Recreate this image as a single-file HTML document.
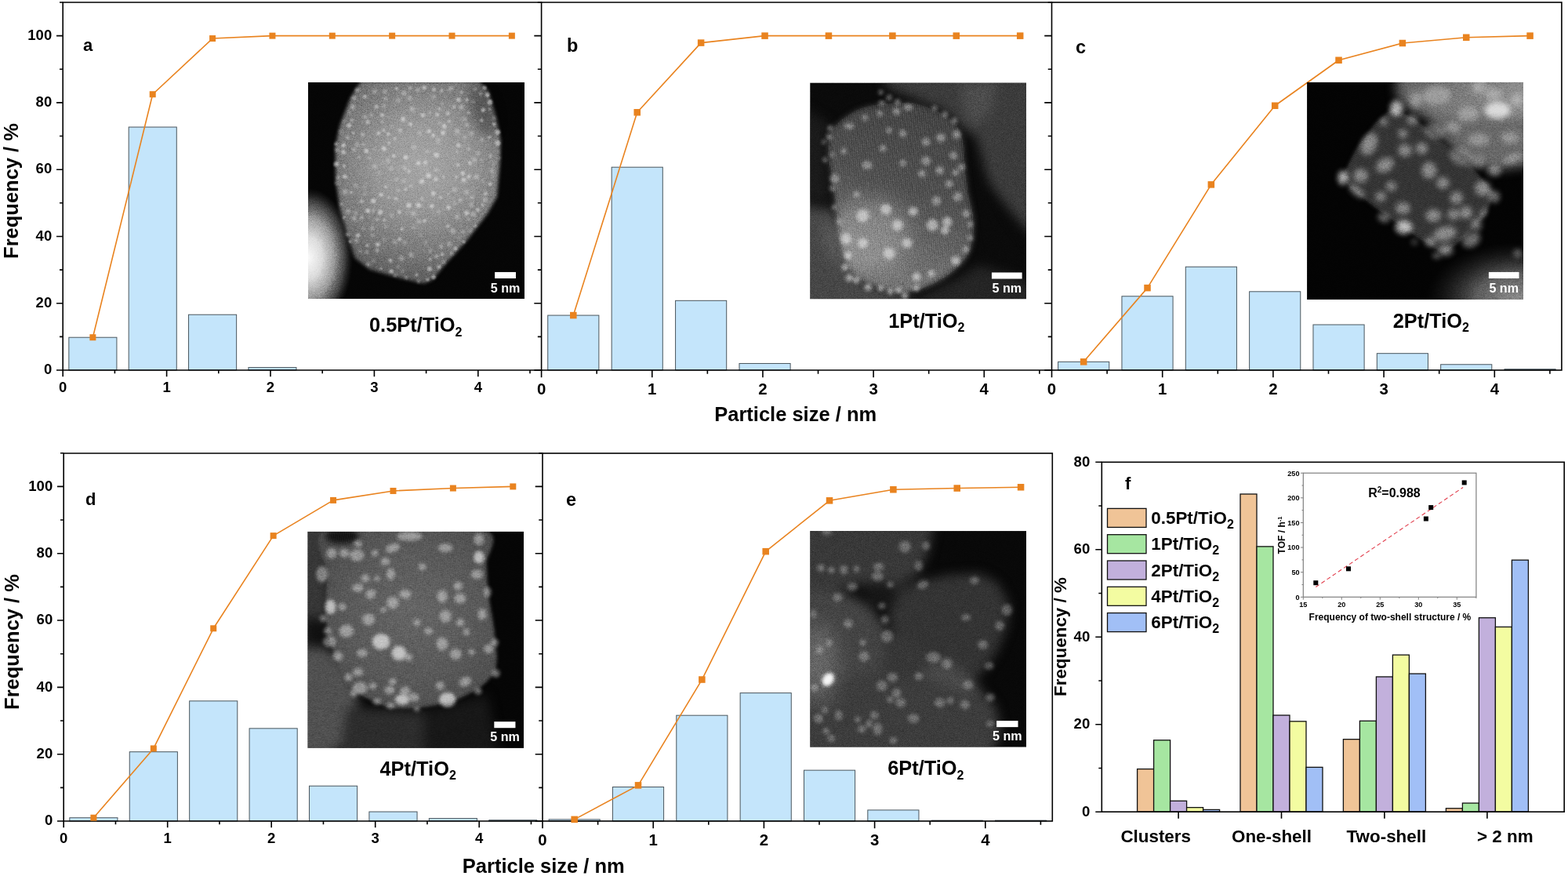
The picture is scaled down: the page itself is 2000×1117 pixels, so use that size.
<!DOCTYPE html>
<html lang="en"><head><meta charset="utf-8"><title>Particle size distributions</title>
<style>
html,body{margin:0;padding:0;background:#fff;}
body{width:2000px;height:1117px;overflow:hidden;}
svg{display:block;}
text{font-family:"Liberation Sans", sans-serif;font-weight:700;fill:#000;}
.tk{font-size:18px;}
.lt{font-size:22px;}
.ax{font-size:25.5px;}
.cap{font-size:25.4px;}
.sub{font-size:16px;}
.lg{font-size:22.4px;}
.lgs{font-size:16px;}
.ftk{font-size:18.6px;}
.fx{font-size:22.4px;}
.itk{font-size:9.1px;}
.ix{font-size:12px;}
.r2{font-size:16px;}
.sb{font-size:14px;fill:#fff;}
</style></head><body>
<svg width="2000" height="1117" viewBox="0 0 2000 1117">
<rect width="2000" height="1117" fill="#fff"/>

<defs>
<filter color-interpolation-filters="sRGB" id="b3" x="-50%" y="-50%" width="200%" height="200%"><feGaussianBlur stdDeviation="3"/></filter>
<filter color-interpolation-filters="sRGB" id="b5" x="-50%" y="-50%" width="200%" height="200%"><feGaussianBlur stdDeviation="5"/></filter>
<filter color-interpolation-filters="sRGB" id="b8" x="-50%" y="-50%" width="200%" height="200%"><feGaussianBlur stdDeviation="8"/></filter>
<filter color-interpolation-filters="sRGB" id="b14" x="-50%" y="-50%" width="200%" height="200%"><feGaussianBlur stdDeviation="14"/></filter>
<filter color-interpolation-filters="sRGB" id="b25" x="-50%" y="-50%" width="200%" height="200%"><feGaussianBlur stdDeviation="25"/></filter>
<filter color-interpolation-filters="sRGB" id="b45" x="-50%" y="-50%" width="200%" height="200%"><feGaussianBlur stdDeviation="45"/></filter>
<filter color-interpolation-filters="sRGB" id="grain" x="0" y="0" width="100%" height="100%"><feTurbulence type="fractalNoise" baseFrequency="0.45" numOctaves="2" seed="7" result="n"/><feColorMatrix in="n" type="matrix" values="1.3 0 0 0 -0.15  1.3 0 0 0 -0.15  1.3 0 0 0 -0.15  0 0 0 0 1"/></filter>
<pattern id="fringeB" width="9" height="9" patternUnits="userSpaceOnUse" patternTransform="rotate(4)"><rect width="9" height="9" fill="none"/><rect x="0" width="3.5" height="9" fill="#fff" opacity="0.16"/></pattern>
<pattern id="fringeD" width="10" height="10" patternUnits="userSpaceOnUse" patternTransform="rotate(8)"><rect x="0" width="4" height="10" fill="#fff" opacity="0.08"/></pattern>
<pattern id="fringeC" width="8" height="8" patternUnits="userSpaceOnUse" patternTransform="rotate(62)"><rect x="0" width="3" height="8" fill="#fff" opacity="0.08"/></pattern>
<radialGradient id="gA" gradientUnits="userSpaceOnUse" cx="590" cy="430" r="560"><stop offset="0" stop-color="#a6a6a6"/><stop offset="0.4" stop-color="#969696"/><stop offset="0.75" stop-color="#787878"/><stop offset="1" stop-color="#5c5c5c"/></radialGradient>
<radialGradient id="gA2" gradientUnits="userSpaceOnUse" cx="50" cy="870" r="330" gradientTransform="translate(50 870) scale(0.64 1) translate(-50 -870)"><stop offset="0" stop-color="#fafafa"/><stop offset="0.3" stop-color="#dcdcdc"/><stop offset="0.58" stop-color="#9a9a9a"/><stop offset="0.82" stop-color="#4a4a4a" stop-opacity="0.85"/><stop offset="1" stop-color="#282828" stop-opacity="0"/></radialGradient>
<linearGradient id="gB" gradientUnits="userSpaceOnUse" x1="600" y1="150" x2="330" y2="900"><stop offset="0" stop-color="#383838"/><stop offset="0.5" stop-color="#464646"/><stop offset="1" stop-color="#6c6c6c"/></linearGradient>
<linearGradient id="gC" gradientUnits="userSpaceOnUse" x1="480" y1="100" x2="1072" y2="200"><stop offset="0" stop-color="#646464"/><stop offset="0.5" stop-color="#7c7c7c"/><stop offset="1" stop-color="#909090"/></linearGradient>
<radialGradient id="gC2" gradientUnits="userSpaceOnUse" cx="1040" cy="1063" r="430" gradientTransform="translate(1040 1063) scale(1 0.62) translate(-1040 -1063)"><stop offset="0" stop-color="#8a8a8a"/><stop offset="0.45" stop-color="#5a5a5a"/><stop offset="1" stop-color="#202020" stop-opacity="0"/></radialGradient>
<radialGradient id="gD" gradientUnits="userSpaceOnUse" cx="540" cy="430" r="520"><stop offset="0" stop-color="#606060"/><stop offset="0.6" stop-color="#545454"/><stop offset="1" stop-color="#464646"/></radialGradient>
</defs>
<g id="panel-a">
<rect x="87.84" y="430.22" width="61.08" height="41.78" fill="#c4e5fb" stroke="#4a565d" stroke-width="1"/>
<rect x="164.19" y="162.04" width="61.08" height="309.96" fill="#c4e5fb" stroke="#4a565d" stroke-width="1"/>
<rect x="240.55" y="401.22" width="61.08" height="70.78" fill="#c4e5fb" stroke="#4a565d" stroke-width="1"/>
<rect x="316.90" y="468.59" width="61.08" height="3.41" fill="#c4e5fb" stroke="#4a565d" stroke-width="1"/>
<path d="M80.20 3.00H690.60M80.20 472.00H690.60M80.20 3.00V472.00" fill="none" stroke="#000" stroke-width="1.6" stroke-linecap="square"/>
<path d="M80.20 472.00v8.20M146.40 472.00v4.20M212.60 472.00v8.20M278.80 472.00v4.20M345.00 472.00v8.20M411.20 472.00v4.20M477.40 472.00v8.20M543.60 472.00v4.20M609.80 472.00v8.20M676.00 472.00v4.20M80.20 472.00h-8.20M80.20 429.36h-4.20M80.20 386.73h-8.20M80.20 344.09h-4.20M80.20 301.46h-8.20M80.20 258.82h-4.20M80.20 216.18h-8.20M80.20 173.55h-4.20M80.20 130.91h-8.20M80.20 88.28h-4.20M80.20 45.64h-8.20M80.20 3.00h-4.20" stroke="#000" stroke-width="1.6" fill="none"/>
<text x="80.20" y="500.40" text-anchor="middle" class="tk" style="font-size:18.50px">0</text>
<text x="212.60" y="500.40" text-anchor="middle" class="tk" style="font-size:18.50px">1</text>
<text x="345.00" y="500.40" text-anchor="middle" class="tk" style="font-size:18.50px">2</text>
<text x="477.40" y="500.40" text-anchor="middle" class="tk" style="font-size:18.50px">3</text>
<text x="609.80" y="500.40" text-anchor="middle" class="tk" style="font-size:18.50px">4</text>
<text x="66.20" y="477.30" text-anchor="end" class="tk" style="font-size:18.5px">0</text>
<text x="66.20" y="392.03" text-anchor="end" class="tk" style="font-size:18.5px">20</text>
<text x="66.20" y="306.76" text-anchor="end" class="tk" style="font-size:18.5px">40</text>
<text x="66.20" y="221.48" text-anchor="end" class="tk" style="font-size:18.5px">60</text>
<text x="66.20" y="136.21" text-anchor="end" class="tk" style="font-size:18.5px">80</text>
<text x="66.20" y="50.94" text-anchor="end" class="tk" style="font-size:18.5px">100</text>
<polyline points="118.38,430.22 194.73,120.25 271.09,49.05 347.44,45.64 423.80,45.64 500.15,45.64 576.51,45.64 652.86,45.64" fill="none" stroke="#e9831f" stroke-width="1.6" stroke-linejoin="round"/>
<rect x="114.38" y="426.22" width="8.00" height="8.00" fill="#e9831f"/>
<rect x="190.73" y="116.25" width="8.00" height="8.00" fill="#e9831f"/>
<rect x="267.09" y="45.05" width="8.00" height="8.00" fill="#e9831f"/>
<rect x="343.44" y="41.64" width="8.00" height="8.00" fill="#e9831f"/>
<rect x="419.80" y="41.64" width="8.00" height="8.00" fill="#e9831f"/>
<rect x="496.15" y="41.64" width="8.00" height="8.00" fill="#e9831f"/>
<rect x="572.51" y="41.64" width="8.00" height="8.00" fill="#e9831f"/>
<rect x="648.86" y="41.64" width="8.00" height="8.00" fill="#e9831f"/>
<text x="106" y="65" class="lt" style="font-size:22.00px">a</text>
</g>
<g id="panel-b">
<rect x="698.74" y="402.08" width="65.13" height="69.92" fill="#c4e5fb" stroke="#4a565d" stroke-width="1"/>
<rect x="780.15" y="213.20" width="65.13" height="258.80" fill="#c4e5fb" stroke="#4a565d" stroke-width="1"/>
<rect x="861.57" y="383.32" width="65.13" height="88.68" fill="#c4e5fb" stroke="#4a565d" stroke-width="1"/>
<rect x="942.98" y="463.47" width="65.13" height="8.53" fill="#c4e5fb" stroke="#4a565d" stroke-width="1"/>
<path d="M690.60 3.00H1341.50M690.60 472.00H1341.50M690.60 3.00V472.00" fill="none" stroke="#000" stroke-width="1.6" stroke-linecap="square"/>
<path d="M690.60 472.00v9.27M761.19 472.00v4.75M831.77 472.00v9.27M902.36 472.00v4.75M972.94 472.00v9.27M1043.53 472.00v4.75M1114.11 472.00v9.27M1184.69 472.00v4.75M1255.28 472.00v9.27M1325.87 472.00v4.75M690.60 472.00h-9.27M690.60 429.36h-4.75M690.60 386.73h-9.27M690.60 344.09h-4.75M690.60 301.46h-9.27M690.60 258.82h-4.75M690.60 216.18h-9.27M690.60 173.55h-4.75M690.60 130.91h-9.27M690.60 88.28h-4.75M690.60 45.64h-9.27M690.60 3.00h-4.75" stroke="#000" stroke-width="1.6" fill="none"/>
<text x="690.60" y="502.60" text-anchor="middle" class="tk" style="font-size:20.40px">0</text>
<text x="831.77" y="502.60" text-anchor="middle" class="tk" style="font-size:20.40px">1</text>
<text x="972.94" y="502.60" text-anchor="middle" class="tk" style="font-size:20.40px">2</text>
<text x="1114.11" y="502.60" text-anchor="middle" class="tk" style="font-size:20.40px">3</text>
<text x="1255.28" y="502.60" text-anchor="middle" class="tk" style="font-size:20.40px">4</text>
<polyline points="731.31,402.08 812.72,143.28 894.13,54.59 975.54,45.64 1056.96,45.64 1138.37,45.64 1219.78,45.64 1301.20,45.64" fill="none" stroke="#e9831f" stroke-width="1.6" stroke-linejoin="round"/>
<rect x="727.04" y="397.81" width="8.53" height="8.53" fill="#e9831f"/>
<rect x="808.46" y="139.01" width="8.53" height="8.53" fill="#e9831f"/>
<rect x="889.87" y="50.33" width="8.53" height="8.53" fill="#e9831f"/>
<rect x="971.28" y="41.38" width="8.53" height="8.53" fill="#e9831f"/>
<rect x="1052.69" y="41.38" width="8.53" height="8.53" fill="#e9831f"/>
<rect x="1134.11" y="41.38" width="8.53" height="8.53" fill="#e9831f"/>
<rect x="1215.52" y="41.38" width="8.53" height="8.53" fill="#e9831f"/>
<rect x="1296.93" y="41.38" width="8.53" height="8.53" fill="#e9831f"/>
<text x="723" y="65.5" class="lt" style="font-size:23.45px">b</text>
</g>
<g id="panel-c">
<rect x="1349.60" y="461.34" width="65.14" height="10.66" fill="#c4e5fb" stroke="#4a565d" stroke-width="1"/>
<rect x="1430.94" y="377.77" width="65.14" height="94.23" fill="#c4e5fb" stroke="#4a565d" stroke-width="1"/>
<rect x="1512.29" y="340.25" width="65.14" height="131.75" fill="#c4e5fb" stroke="#4a565d" stroke-width="1"/>
<rect x="1593.63" y="371.81" width="65.14" height="100.19" fill="#c4e5fb" stroke="#4a565d" stroke-width="1"/>
<rect x="1674.97" y="414.02" width="65.14" height="57.98" fill="#c4e5fb" stroke="#4a565d" stroke-width="1"/>
<rect x="1756.32" y="450.68" width="65.14" height="21.32" fill="#c4e5fb" stroke="#4a565d" stroke-width="1"/>
<rect x="1837.66" y="464.75" width="65.14" height="7.25" fill="#c4e5fb" stroke="#4a565d" stroke-width="1"/>
<rect x="1919.00" y="470.72" width="65.14" height="1.28" fill="#c4e5fb" stroke="#4a565d" stroke-width="1"/>
<rect x="1341.50" y="3.00" width="650.40" height="469.00" fill="none" stroke="#000" stroke-width="1.6"/>
<path d="M1341.50 472.00v9.27M1412.10 472.00v4.75M1482.70 472.00v9.27M1553.30 472.00v4.75M1623.90 472.00v9.27M1694.50 472.00v4.75M1765.10 472.00v9.27M1835.70 472.00v4.75M1906.30 472.00v9.27M1976.90 472.00v4.75M1341.50 472.00h-9.27M1341.50 429.36h-4.75M1341.50 386.73h-9.27M1341.50 344.09h-4.75M1341.50 301.46h-9.27M1341.50 258.82h-4.75M1341.50 216.18h-9.27M1341.50 173.55h-4.75M1341.50 130.91h-9.27M1341.50 88.28h-4.75M1341.50 45.64h-9.27M1341.50 3.00h-4.75" stroke="#000" stroke-width="1.6" fill="none"/>
<text x="1341.50" y="502.60" text-anchor="middle" class="tk" style="font-size:20.40px">0</text>
<text x="1482.70" y="502.60" text-anchor="middle" class="tk" style="font-size:20.40px">1</text>
<text x="1623.90" y="502.60" text-anchor="middle" class="tk" style="font-size:20.40px">2</text>
<text x="1765.10" y="502.60" text-anchor="middle" class="tk" style="font-size:20.40px">3</text>
<text x="1906.30" y="502.60" text-anchor="middle" class="tk" style="font-size:20.40px">4</text>
<polyline points="1382.17,461.34 1463.52,367.12 1544.86,235.37 1626.20,134.75 1707.55,76.76 1788.89,55.02 1870.23,47.77 1951.58,45.64" fill="none" stroke="#e9831f" stroke-width="1.6" stroke-linejoin="round"/>
<rect x="1377.91" y="457.08" width="8.53" height="8.53" fill="#e9831f"/>
<rect x="1459.25" y="362.85" width="8.53" height="8.53" fill="#e9831f"/>
<rect x="1540.59" y="231.11" width="8.53" height="8.53" fill="#e9831f"/>
<rect x="1621.94" y="130.49" width="8.53" height="8.53" fill="#e9831f"/>
<rect x="1703.28" y="72.50" width="8.53" height="8.53" fill="#e9831f"/>
<rect x="1784.63" y="50.76" width="8.53" height="8.53" fill="#e9831f"/>
<rect x="1865.97" y="43.51" width="8.53" height="8.53" fill="#e9831f"/>
<rect x="1947.31" y="41.38" width="8.53" height="8.53" fill="#e9831f"/>
<text x="1372" y="68" class="lt" style="font-size:23.45px">c</text>
</g>
<g id="panel-d">
<rect x="88.84" y="1042.73" width="61.13" height="4.27" fill="#c4e5fb" stroke="#4a565d" stroke-width="1"/>
<rect x="165.25" y="958.69" width="61.13" height="88.31" fill="#c4e5fb" stroke="#4a565d" stroke-width="1"/>
<rect x="241.67" y="893.85" width="61.13" height="153.15" fill="#c4e5fb" stroke="#4a565d" stroke-width="1"/>
<rect x="318.08" y="928.83" width="61.13" height="118.17" fill="#c4e5fb" stroke="#4a565d" stroke-width="1"/>
<rect x="394.49" y="1002.21" width="61.13" height="44.79" fill="#c4e5fb" stroke="#4a565d" stroke-width="1"/>
<rect x="470.91" y="1035.06" width="61.13" height="11.94" fill="#c4e5fb" stroke="#4a565d" stroke-width="1"/>
<rect x="547.32" y="1043.59" width="61.13" height="3.41" fill="#c4e5fb" stroke="#4a565d" stroke-width="1"/>
<rect x="623.73" y="1045.72" width="61.13" height="1.28" fill="#c4e5fb" stroke="#4a565d" stroke-width="1"/>
<path d="M81.20 578.00H692.00M81.20 1047.00H692.00M81.20 578.00V1047.00" fill="none" stroke="#000" stroke-width="1.6" stroke-linecap="square"/>
<path d="M81.20 1047.00v8.20M147.45 1047.00v4.20M213.70 1047.00v8.20M279.95 1047.00v4.20M346.20 1047.00v8.20M412.45 1047.00v4.20M478.70 1047.00v8.20M544.95 1047.00v4.20M611.20 1047.00v8.20M677.45 1047.00v4.20M81.20 1047.00h-8.20M81.20 1004.34h-4.20M81.20 961.68h-8.20M81.20 919.02h-4.20M81.20 876.36h-8.20M81.20 833.70h-4.20M81.20 791.04h-8.20M81.20 748.38h-4.20M81.20 705.72h-8.20M81.20 663.06h-4.20M81.20 620.40h-8.20M81.20 577.74h-4.20" stroke="#000" stroke-width="1.6" fill="none"/>
<text x="81.20" y="1075.40" text-anchor="middle" class="tk" style="font-size:18.50px">0</text>
<text x="213.70" y="1075.40" text-anchor="middle" class="tk" style="font-size:18.50px">1</text>
<text x="346.20" y="1075.40" text-anchor="middle" class="tk" style="font-size:18.50px">2</text>
<text x="478.70" y="1075.40" text-anchor="middle" class="tk" style="font-size:18.50px">3</text>
<text x="611.20" y="1075.40" text-anchor="middle" class="tk" style="font-size:18.50px">4</text>
<text x="67.20" y="1052.30" text-anchor="end" class="tk" style="font-size:18.5px">0</text>
<text x="67.20" y="966.98" text-anchor="end" class="tk" style="font-size:18.5px">20</text>
<text x="67.20" y="881.66" text-anchor="end" class="tk" style="font-size:18.5px">40</text>
<text x="67.20" y="796.34" text-anchor="end" class="tk" style="font-size:18.5px">60</text>
<text x="67.20" y="711.02" text-anchor="end" class="tk" style="font-size:18.5px">80</text>
<text x="67.20" y="625.70" text-anchor="end" class="tk" style="font-size:18.5px">100</text>
<polyline points="119.41,1042.73 195.82,954.43 272.23,801.28 348.64,683.11 425.06,637.89 501.47,625.95 577.88,622.53 654.30,620.40" fill="none" stroke="#e9831f" stroke-width="1.6" stroke-linejoin="round"/>
<rect x="115.41" y="1038.73" width="8.00" height="8.00" fill="#e9831f"/>
<rect x="191.82" y="950.43" width="8.00" height="8.00" fill="#e9831f"/>
<rect x="268.23" y="797.28" width="8.00" height="8.00" fill="#e9831f"/>
<rect x="344.64" y="679.11" width="8.00" height="8.00" fill="#e9831f"/>
<rect x="421.06" y="633.89" width="8.00" height="8.00" fill="#e9831f"/>
<rect x="497.47" y="621.95" width="8.00" height="8.00" fill="#e9831f"/>
<rect x="573.88" y="618.53" width="8.00" height="8.00" fill="#e9831f"/>
<rect x="650.30" y="616.40" width="8.00" height="8.00" fill="#e9831f"/>
<text x="109" y="643.5" class="lt" style="font-size:22.00px">d</text>
</g>
<g id="panel-e">
<rect x="700.10" y="1044.87" width="65.14" height="2.13" fill="#c4e5fb" stroke="#4a565d" stroke-width="1"/>
<rect x="781.44" y="1003.49" width="65.14" height="43.51" fill="#c4e5fb" stroke="#4a565d" stroke-width="1"/>
<rect x="862.79" y="912.19" width="65.14" height="134.81" fill="#c4e5fb" stroke="#4a565d" stroke-width="1"/>
<rect x="944.13" y="883.61" width="65.14" height="163.39" fill="#c4e5fb" stroke="#4a565d" stroke-width="1"/>
<rect x="1025.47" y="982.16" width="65.14" height="64.84" fill="#c4e5fb" stroke="#4a565d" stroke-width="1"/>
<rect x="1106.82" y="1032.92" width="65.14" height="14.08" fill="#c4e5fb" stroke="#4a565d" stroke-width="1"/>
<rect x="1188.16" y="1046.15" width="65.14" height="0.85" fill="#c4e5fb" stroke="#4a565d" stroke-width="1"/>
<rect x="1269.50" y="1046.15" width="65.14" height="0.85" fill="#c4e5fb" stroke="#4a565d" stroke-width="1"/>
<rect x="692.00" y="578.00" width="650.30" height="469.00" fill="none" stroke="#000" stroke-width="1.6"/>
<path d="M692.00 1047.00v9.27M762.60 1047.00v4.75M833.20 1047.00v9.27M903.80 1047.00v4.75M974.40 1047.00v9.27M1045.00 1047.00v4.75M1115.60 1047.00v9.27M1186.20 1047.00v4.75M1256.80 1047.00v9.27M1327.40 1047.00v4.75M692.00 1047.00h-9.27M692.00 1004.34h-4.75M692.00 961.68h-9.27M692.00 919.02h-4.75M692.00 876.36h-9.27M692.00 833.70h-4.75M692.00 791.04h-9.27M692.00 748.38h-4.75M692.00 705.72h-9.27M692.00 663.06h-4.75M692.00 620.40h-9.27M692.00 577.74h-4.75" stroke="#000" stroke-width="1.6" fill="none"/>
<text x="692.00" y="1077.60" text-anchor="middle" class="tk" style="font-size:20.40px">0</text>
<text x="833.20" y="1077.60" text-anchor="middle" class="tk" style="font-size:20.40px">1</text>
<text x="974.40" y="1077.60" text-anchor="middle" class="tk" style="font-size:20.40px">2</text>
<text x="1115.60" y="1077.60" text-anchor="middle" class="tk" style="font-size:20.40px">3</text>
<text x="1256.80" y="1077.60" text-anchor="middle" class="tk" style="font-size:20.40px">4</text>
<polyline points="732.67,1044.87 814.02,1001.35 895.36,866.55 976.70,703.16 1058.05,638.32 1139.39,624.24 1220.73,622.53 1302.08,621.25" fill="none" stroke="#e9831f" stroke-width="1.6" stroke-linejoin="round"/>
<rect x="728.41" y="1040.60" width="8.53" height="8.53" fill="#e9831f"/>
<rect x="809.75" y="997.09" width="8.53" height="8.53" fill="#e9831f"/>
<rect x="891.09" y="862.28" width="8.53" height="8.53" fill="#e9831f"/>
<rect x="972.44" y="698.90" width="8.53" height="8.53" fill="#e9831f"/>
<rect x="1053.78" y="634.05" width="8.53" height="8.53" fill="#e9831f"/>
<rect x="1135.13" y="619.98" width="8.53" height="8.53" fill="#e9831f"/>
<rect x="1216.47" y="618.27" width="8.53" height="8.53" fill="#e9831f"/>
<rect x="1297.81" y="616.99" width="8.53" height="8.53" fill="#e9831f"/>
<text x="722" y="644.8" class="lt" style="font-size:23.45px">e</text>
</g>
<text x="1014.7" y="536.9" text-anchor="middle" class="ax">Particle size / nm</text>
<text x="693.3" y="1113" text-anchor="middle" class="ax">Particle size / nm</text>
<text transform="translate(23.3,243.5) rotate(-90)" text-anchor="middle" class="ax">Frequency / %</text>
<text transform="translate(24.2,818.5) rotate(-90)" text-anchor="middle" class="ax">Frequency / %</text>
<g id="tem-a" transform="translate(380,95) scale(0.26858)">
<clipPath id="clipa"><rect x="48" y="37" width="1028" height="1028"/></clipPath>
<g clip-path="url(#clipa)">
<rect x="48" y="37" width="1028" height="1028" fill="#050505"/>
<ellipse cx="50" cy="870" rx="215" ry="330" fill="url(#gA2)"/>
<g filter="url(#b8)"><polygon points="300,30 860,30 905,80 940,200 962,310 958,430 945,580 900,660 800,790 700,900 640,975 600,992 480,965 340,925 270,870 235,760 200,640 180,500 178,340 200,240 250,110" fill="url(#gA)"/></g>
<ellipse cx="880" cy="170" rx="60" ry="130" fill="#000" opacity="0.28" filter="url(#b25)" transform="rotate(-15 880 170)"/>
<g fill="#f0f0f0" filter="url(#b3)" opacity="0.52"><circle cx="662" cy="191" r="9"/><circle cx="842" cy="719" r="7"/><circle cx="264" cy="277" r="6"/><circle cx="433" cy="324" r="7"/><circle cx="876" cy="619" r="7"/><circle cx="394" cy="921" r="6"/><circle cx="465" cy="589" r="8"/><circle cx="636" cy="625" r="10"/><circle cx="411" cy="691" r="7"/><circle cx="534" cy="64" r="7"/><circle cx="670" cy="914" r="9"/><circle cx="748" cy="826" r="10"/><circle cx="564" cy="951" r="7"/><circle cx="573" cy="621" r="12"/><circle cx="909" cy="298" r="7"/><circle cx="910" cy="164" r="6"/><circle cx="593" cy="193" r="10"/><circle cx="880" cy="169" r="10"/><circle cx="719" cy="221" r="7"/><circle cx="912" cy="131" r="12"/><circle cx="761" cy="429" r="7"/><circle cx="495" cy="734" r="8"/><circle cx="777" cy="83" r="7"/><circle cx="949" cy="274" r="12"/><circle cx="535" cy="236" r="9"/><circle cx="252" cy="560" r="7"/><circle cx="512" cy="394" r="11"/><circle cx="625" cy="922" r="11"/><circle cx="607" cy="797" r="6"/><circle cx="689" cy="276" r="11"/><circle cx="217" cy="336" r="10"/><circle cx="257" cy="217" r="7"/><circle cx="236" cy="299" r="7"/><circle cx="621" cy="480" r="12"/><circle cx="712" cy="720" r="8"/><circle cx="182" cy="425" r="12"/><circle cx="892" cy="566" r="9"/><circle cx="913" cy="387" r="7"/><circle cx="683" cy="76" r="7"/><circle cx="572" cy="421" r="10"/><circle cx="409" cy="352" r="11"/><circle cx="332" cy="647" r="11"/><circle cx="391" cy="654" r="12"/><circle cx="913" cy="520" r="9"/><circle cx="788" cy="795" r="7"/><circle cx="628" cy="878" r="7"/><circle cx="380" cy="807" r="11"/><circle cx="219" cy="434" r="7"/><circle cx="217" cy="369" r="11"/><circle cx="460" cy="304" r="7"/><circle cx="646" cy="71" r="9"/><circle cx="950" cy="326" r="12"/><circle cx="303" cy="679" r="7"/><circle cx="430" cy="283" r="8"/><circle cx="605" cy="418" r="9"/><circle cx="788" cy="501" r="11"/><circle cx="741" cy="154" r="8"/><circle cx="810" cy="181" r="7"/><circle cx="816" cy="420" r="9"/><circle cx="418" cy="534" r="7"/><circle cx="932" cy="236" r="8"/><circle cx="855" cy="643" r="9"/><circle cx="291" cy="391" r="6"/><circle cx="658" cy="383" r="12"/><circle cx="643" cy="564" r="11"/><circle cx="223" cy="484" r="10"/><circle cx="763" cy="120" r="10"/><circle cx="887" cy="63" r="9"/><circle cx="684" cy="854" r="8"/><circle cx="645" cy="962" r="10"/><circle cx="801" cy="657" r="11"/><circle cx="528" cy="459" r="8"/><circle cx="303" cy="602" r="8"/><circle cx="248" cy="793" r="7"/><circle cx="382" cy="279" r="9"/><circle cx="219" cy="680" r="6"/><circle cx="616" cy="974" r="7"/><circle cx="872" cy="217" r="8"/><circle cx="444" cy="934" r="10"/><circle cx="692" cy="486" r="6"/><circle cx="358" cy="600" r="12"/><circle cx="588" cy="508" r="11"/><circle cx="715" cy="631" r="10"/><circle cx="900" cy="97" r="11"/><circle cx="600" cy="63" r="10"/><circle cx="440" cy="883" r="9"/><circle cx="455" cy="386" r="8"/><circle cx="482" cy="654" r="9"/><circle cx="695" cy="246" r="11"/><circle cx="477" cy="550" r="6"/><circle cx="622" cy="269" r="10"/><circle cx="872" cy="406" r="6"/><circle cx="325" cy="362" r="11"/><circle cx="615" cy="366" r="6"/><circle cx="712" cy="185" r="9"/><circle cx="527" cy="621" r="12"/><circle cx="752" cy="485" r="7"/><circle cx="812" cy="353" r="7"/><circle cx="376" cy="688" r="7"/><circle cx="431" cy="584" r="6"/><circle cx="803" cy="120" r="8"/><circle cx="330" cy="812" r="8"/><circle cx="755" cy="367" r="6"/><circle cx="285" cy="764" r="10"/><circle cx="243" cy="241" r="11"/><circle cx="812" cy="484" r="9"/><circle cx="181" cy="330" r="8"/><circle cx="407" cy="264" r="7"/><circle cx="395" cy="571" r="10"/><circle cx="655" cy="497" r="10"/><circle cx="643" cy="289" r="9"/><circle cx="332" cy="226" r="9"/><circle cx="400" cy="193" r="9"/><circle cx="534" cy="529" r="7"/><circle cx="784" cy="469" r="10"/><circle cx="483" cy="782" r="9"/><circle cx="318" cy="105" r="9"/><circle cx="372" cy="154" r="9"/><circle cx="469" cy="67" r="8"/><circle cx="602" cy="694" r="9"/><circle cx="512" cy="545" r="7"/><circle cx="499" cy="212" r="11"/><circle cx="762" cy="336" r="10"/><circle cx="671" cy="163" r="7"/><circle cx="677" cy="584" r="7"/></g>
<g fill="#e8e8e8" filter="url(#b5)" opacity="0.4"><circle cx="218" cy="223" r="6"/><circle cx="793" cy="299" r="8"/><circle cx="275" cy="658" r="9"/><circle cx="824" cy="280" r="10"/><circle cx="310" cy="732" r="7"/><circle cx="385" cy="468" r="7"/><circle cx="282" cy="74" r="11"/><circle cx="237" cy="760" r="10"/><circle cx="532" cy="112" r="11"/><circle cx="548" cy="726" r="8"/><circle cx="925" cy="485" r="7"/><circle cx="855" cy="375" r="9"/><circle cx="589" cy="590" r="9"/><circle cx="223" cy="557" r="12"/><circle cx="551" cy="345" r="10"/><circle cx="578" cy="281" r="9"/><circle cx="659" cy="862" r="10"/><circle cx="507" cy="798" r="8"/><circle cx="625" cy="181" r="7"/><circle cx="731" cy="850" r="9"/><circle cx="573" cy="983" r="8"/><circle cx="680" cy="817" r="10"/><circle cx="366" cy="81" r="11"/><circle cx="823" cy="619" r="10"/><circle cx="757" cy="269" r="11"/><circle cx="469" cy="499" r="8"/><circle cx="409" cy="784" r="7"/><circle cx="875" cy="310" r="9"/><circle cx="238" cy="649" r="10"/><circle cx="507" cy="444" r="10"/><circle cx="791" cy="212" r="9"/><circle cx="744" cy="611" r="7"/><circle cx="296" cy="839" r="8"/><circle cx="832" cy="129" r="7"/><circle cx="351" cy="191" r="8"/><circle cx="185" cy="358" r="10"/><circle cx="672" cy="230" r="7"/><circle cx="629" cy="838" r="9"/><circle cx="645" cy="107" r="9"/><circle cx="486" cy="266" r="11"/><circle cx="326" cy="844" r="9"/><circle cx="416" cy="722" r="7"/><circle cx="206" cy="616" r="8"/><circle cx="931" cy="207" r="7"/><circle cx="569" cy="74" r="10"/><circle cx="184" cy="516" r="9"/><circle cx="307" cy="285" r="10"/><circle cx="201" cy="271" r="7"/><circle cx="317" cy="568" r="7"/><circle cx="428" cy="409" r="11"/><circle cx="446" cy="247" r="6"/><circle cx="358" cy="647" r="9"/><circle cx="443" cy="445" r="9"/><circle cx="476" cy="913" r="7"/><circle cx="312" cy="533" r="6"/><circle cx="866" cy="91" r="9"/><circle cx="266" cy="357" r="9"/><circle cx="417" cy="115" r="9"/><circle cx="265" cy="112" r="11"/><circle cx="930" cy="426" r="8"/><circle cx="514" cy="964" r="8"/><circle cx="492" cy="873" r="12"/><circle cx="543" cy="164" r="12"/><circle cx="366" cy="435" r="11"/><circle cx="833" cy="664" r="12"/><circle cx="338" cy="395" r="8"/><circle cx="819" cy="742" r="7"/><circle cx="538" cy="857" r="11"/><circle cx="693" cy="891" r="9"/><circle cx="583" cy="764" r="7"/><circle cx="772" cy="597" r="10"/><circle cx="261" cy="154" r="12"/><circle cx="355" cy="763" r="8"/><circle cx="461" cy="953" r="8"/><circle cx="460" cy="796" r="9"/><circle cx="504" cy="506" r="9"/><circle cx="358" cy="887" r="7"/><circle cx="802" cy="558" r="11"/><circle cx="847" cy="486" r="12"/><circle cx="413" cy="80" r="10"/><circle cx="718" cy="806" r="11"/><circle cx="363" cy="354" r="6"/><circle cx="954" cy="368" r="6"/><circle cx="279" cy="789" r="10"/><circle cx="726" cy="67" r="11"/><circle cx="353" cy="730" r="10"/><circle cx="666" cy="314" r="11"/><circle cx="921" cy="458" r="10"/><circle cx="377" cy="835" r="10"/><circle cx="956" cy="396" r="7"/><circle cx="767" cy="771" r="6"/><circle cx="399" cy="223" r="7"/><circle cx="888" cy="594" r="12"/><circle cx="266" cy="684" r="11"/><circle cx="879" cy="504" r="7"/><circle cx="803" cy="238" r="10"/><circle cx="810" cy="689" r="8"/><circle cx="244" cy="179" r="7"/><circle cx="838" cy="405" r="11"/><circle cx="840" cy="69" r="8"/><circle cx="785" cy="747" r="9"/><circle cx="333" cy="902" r="9"/><circle cx="408" cy="150" r="9"/><circle cx="737" cy="742" r="12"/><circle cx="827" cy="584" r="10"/><circle cx="714" cy="566" r="6"/><circle cx="744" cy="546" r="11"/><circle cx="832" cy="551" r="6"/><circle cx="503" cy="88" r="12"/><circle cx="280" cy="332" r="9"/><circle cx="497" cy="934" r="7"/><circle cx="478" cy="123" r="10"/><circle cx="574" cy="700" r="10"/><circle cx="686" cy="139" r="7"/><circle cx="273" cy="527" r="9"/><circle cx="757" cy="676" r="11"/><circle cx="656" cy="452" r="8"/><circle cx="312" cy="332" r="8"/><circle cx="402" cy="417" r="6"/><circle cx="445" cy="669" r="9"/><circle cx="190" cy="490" r="9"/><circle cx="319" cy="201" r="10"/><circle cx="667" cy="651" r="8"/><circle cx="549" cy="661" r="12"/><circle cx="777" cy="155" r="12"/></g>
<rect x="48" y="37" width="1028" height="1028" filter="url(#grain)" opacity="0.28" style="mix-blend-mode:overlay"/>
<rect x="935" y="938" width="100" height="30" fill="#fff"/>
<text x="985" y="1034" text-anchor="middle" style="font-size:60px;fill:#fff">5 nm</text>
</g></g>
<text x="471" y="423.2" class="cap">0.5Pt/TiO<tspan class="sub" dy="5.3">2</tspan></text>
<g id="tem-b" transform="translate(1020,95) scale(0.26858)">
<clipPath id="clipb"><rect x="49" y="39" width="1027" height="1027"/></clipPath>
<g clip-path="url(#clipb)">
<rect x="49" y="39" width="1027" height="1027" fill="#0a0a0a"/>
<g filter="url(#b25)">
<polygon points="380,0 1120,0 1120,780 1010,660 910,530 840,410 795,280 700,180 560,120 430,70" fill="#3b3b3b"/>
<polygon points="760,40 940,40 900,200 800,250" fill="#4c4c4c"/>
<polygon points="0,620 150,640 200,850 300,980 500,1050 620,1120 0,1120" fill="#464646"/>
<polygon points="560,1060 750,970 850,905 1000,950 1120,1000 1120,1120 560,1120" fill="#242424"/>
<polygon points="0,150 140,230 130,420 150,600 0,600" fill="#1a1a1a"/>
<polygon points="770,250 840,300 880,450 930,600 1010,740 1120,860 1120,1000 1000,950 850,905 820,700 790,500" fill="#0a0a0a"/>
</g>
<g filter="url(#b14)"><path d="M150 270C164 243 190 220 220 200C250 180 280 161 330 150C380 139 468 132 520 135C572 138 607 157 640 170C673 183 698 195 720 215C742 235 759 256 770 290C781 324 780 375 785 420C790 465 793 517 800 560C807 603 822 642 825 680C828 718 826 758 820 790C814 822 807 845 790 870C773 895 748 918 720 940C692 962 657 984 620 1000C583 1016 540 1033 500 1035C460 1037 418 1022 380 1010C342 998 298 982 270 960C242 938 229 913 215 880C201 847 192 803 185 760C178 717 176 667 170 620C164 573 156 523 150 480C144 437 135 395 135 360C135 325 136 297 150 270Z" fill="url(#gB)"/></g>
<ellipse cx="330" cy="760" rx="190" ry="170" fill="#fff" opacity="0.22" filter="url(#b45)"/>
<path d="M150 270C164 243 190 220 220 200C250 180 280 161 330 150C380 139 468 132 520 135C572 138 607 157 640 170C673 183 698 195 720 215C742 235 759 256 770 290C781 324 780 375 785 420C790 465 793 517 800 560C807 603 822 642 825 680C828 718 826 758 820 790C814 822 807 845 790 870C773 895 748 918 720 940C692 962 657 984 620 1000C583 1016 540 1033 500 1035C460 1037 418 1022 380 1010C342 998 298 982 270 960C242 938 229 913 215 880C201 847 192 803 185 760C178 717 176 667 170 620C164 573 156 523 150 480C144 437 135 395 135 360C135 325 136 297 150 270Z" fill="url(#fringeB)" opacity="0.9"/>
<g fill="#fff" filter="url(#b8)" opacity="0.36"><circle cx="385" cy="85" r="12"/><circle cx="425" cy="110" r="14"/><circle cx="465" cy="130" r="14"/><ellipse cx="515" cy="155" rx="22" ry="16"/><ellipse cx="390" cy="135" rx="16" ry="12"/><circle cx="310" cy="205" r="14"/><ellipse cx="235" cy="245" rx="24" ry="16"/><circle cx="145" cy="255" r="14"/><circle cx="140" cy="295" r="14"/><circle cx="115" cy="320" r="10"/><circle cx="120" cy="405" r="12"/><circle cx="380" cy="185" r="14"/><circle cx="460" cy="175" r="18"/><circle cx="640" cy="160" r="12"/><circle cx="690" cy="190" r="14"/><circle cx="735" cy="220" r="14"/><ellipse cx="745" cy="285" rx="20" ry="22"/><circle cx="670" cy="300" r="22"/><circle cx="600" cy="320" r="20"/><circle cx="490" cy="280" r="18"/><circle cx="425" cy="265" r="14"/><circle cx="395" cy="350" r="16"/><circle cx="210" cy="365" r="14"/><circle cx="155" cy="380" r="10"/><ellipse cx="320" cy="430" rx="24" ry="20"/><circle cx="490" cy="420" r="16"/><circle cx="600" cy="410" r="22"/><circle cx="730" cy="385" r="18"/><circle cx="770" cy="440" r="16"/><circle cx="665" cy="455" r="20"/><circle cx="740" cy="465" r="16"/><circle cx="580" cy="470" r="18"/><circle cx="165" cy="495" r="22"/><circle cx="155" cy="540" r="14"/><circle cx="710" cy="520" r="18"/><circle cx="750" cy="580" r="22"/><circle cx="650" cy="600" r="22"/><circle cx="270" cy="570" r="16"/><circle cx="165" cy="630" r="12"/><circle cx="185" cy="700" r="12"/><circle cx="790" cy="660" r="18"/><circle cx="810" cy="710" r="14"/><circle cx="810" cy="775" r="14"/><circle cx="790" cy="830" r="16"/></g>
<g fill="#fff" filter="url(#b8)" opacity="0.5"><circle cx="300" cy="670" r="30"/><circle cx="410" cy="640" r="26"/><circle cx="465" cy="715" r="26"/><circle cx="540" cy="650" r="22"/><circle cx="630" cy="715" r="28"/><circle cx="700" cy="700" r="24"/><circle cx="690" cy="740" r="20"/><circle cx="220" cy="780" r="26"/><circle cx="300" cy="800" r="24"/><circle cx="510" cy="800" r="24"/><circle cx="425" cy="850" r="28"/><circle cx="740" cy="885" r="22"/><circle cx="230" cy="860" r="18"/><circle cx="215" cy="915" r="16"/><circle cx="235" cy="965" r="18"/><circle cx="270" cy="975" r="16"/><circle cx="325" cy="1010" r="18"/><circle cx="385" cy="1015" r="14"/><circle cx="430" cy="1030" r="14"/><circle cx="470" cy="1025" r="14"/><circle cx="500" cy="1050" r="16"/><circle cx="555" cy="960" r="20"/><circle cx="625" cy="945" r="16"/><circle cx="555" cy="1015" r="14"/></g>
<rect x="49" y="39" width="1027" height="1027" filter="url(#grain)" opacity="0.28" style="mix-blend-mode:overlay"/>
<rect x="912" y="940" width="144" height="30" fill="#fff"/>
<text x="984" y="1034" text-anchor="middle" style="font-size:60px;fill:#fff">5 nm</text>
</g></g>
<text x="1133.2" y="417.9" class="cap">1Pt/TiO<tspan class="sub" dy="5.3">2</tspan></text>
<g id="tem-c" transform="translate(1655,95) scale(0.26858)">
<clipPath id="clipc"><rect x="45" y="37" width="1027" height="1028"/></clipPath>
<g clip-path="url(#clipc)">
<rect x="45" y="37" width="1027" height="1028" fill="#030303"/>
<g filter="url(#b25)">
<polygon points="470,0 1120,0 1120,410 1000,430 900,400 820,330 700,260 600,200 520,160 470,100" fill="url(#gC)"/>
<polygon points="620,200 1120,200 1120,430 960,450 860,430 720,340" fill="#686868"/>
</g>
<ellipse cx="1000" cy="1060" rx="420" ry="260" fill="url(#gC2)"/>
<g filter="url(#b8)"><polygon points="450,160 560,210 700,330 830,440 930,560 900,660 800,770 700,850 640,820 520,740 380,640 250,540 215,480 280,350 370,230" fill="#2e2e2e"/></g>
<polygon points="450,160 560,210 700,330 830,440 930,560 900,660 800,770 700,850 640,820 520,740 380,640 250,540 215,480 280,350 370,230" fill="url(#fringeC)"/>
<g fill="#fff" filter="url(#b14)" opacity="0.3"><ellipse cx="660" cy="100" rx="70" ry="45"/><ellipse cx="860" cy="60" rx="35" ry="30"/><ellipse cx="810" cy="190" rx="50" ry="35"/><ellipse cx="860" cy="310" rx="50" ry="30"/><ellipse cx="1010" cy="300" rx="45" ry="30"/><ellipse cx="650" cy="270" rx="50" ry="35" transform="rotate(20 650 270)"/><ellipse cx="780" cy="390" rx="60" ry="40" transform="rotate(20 780 390)"/><ellipse cx="850" cy="415" rx="45" ry="28"/><ellipse cx="1020" cy="400" rx="50" ry="22" transform="rotate(-20 1020 400)"/><ellipse cx="560" cy="120" rx="30" ry="40"/><ellipse cx="740" cy="250" rx="35" ry="25"/><ellipse cx="930" cy="95" rx="40" ry="30"/><ellipse cx="1040" cy="120" rx="30" ry="30"/></g>
<g fill="#fff" filter="url(#b14)" opacity="0.7"><ellipse cx="950" cy="170" rx="62" ry="40"/></g>
<g fill="#fff" filter="url(#b14)" opacity="0.42"><ellipse cx="340" cy="330" rx="36" ry="55" transform="rotate(25 340 330)"/><ellipse cx="410" cy="225" rx="18" ry="18"/><ellipse cx="545" cy="215" rx="25" ry="22"/><ellipse cx="500" cy="280" rx="22" ry="22"/><ellipse cx="510" cy="360" rx="32" ry="30"/><ellipse cx="590" cy="350" rx="28" ry="28"/><ellipse cx="415" cy="430" rx="45" ry="32" transform="rotate(-30 415 430)"/><ellipse cx="300" cy="480" rx="35" ry="32"/><ellipse cx="625" cy="455" rx="35" ry="40"/><ellipse cx="690" cy="515" rx="30" ry="28"/><ellipse cx="445" cy="530" rx="25" ry="22"/><ellipse cx="395" cy="580" rx="25" ry="22"/><ellipse cx="280" cy="555" rx="45" ry="18" transform="rotate(40 280 555)"/><ellipse cx="500" cy="635" rx="35" ry="28"/><ellipse cx="410" cy="680" rx="30" ry="20" transform="rotate(20 410 680)"/><ellipse cx="645" cy="670" rx="38" ry="30"/><ellipse cx="740" cy="665" rx="28" ry="26"/><ellipse cx="800" cy="655" rx="30" ry="30"/><ellipse cx="755" cy="585" rx="30" ry="30"/><ellipse cx="880" cy="540" rx="38" ry="36"/><ellipse cx="935" cy="580" rx="25" ry="28"/><ellipse cx="935" cy="455" rx="32" ry="28"/><ellipse cx="850" cy="715" rx="25" ry="28"/><ellipse cx="700" cy="755" rx="55" ry="33" transform="rotate(-15 700 755)"/><ellipse cx="825" cy="785" rx="45" ry="33" transform="rotate(-30 825 785)"/><ellipse cx="705" cy="835" rx="35" ry="26"/><ellipse cx="630" cy="795" rx="25" ry="22"/><ellipse cx="660" cy="860" rx="18" ry="14"/><ellipse cx="555" cy="795" rx="12" ry="12"/><ellipse cx="1045" cy="850" rx="18" ry="18"/><ellipse cx="880" cy="660" rx="12" ry="30" transform="rotate(30 880 660)"/></g>
<g fill="#fff" filter="url(#b14)" opacity="0.7"><ellipse cx="470" cy="160" rx="30" ry="36"/><ellipse cx="215" cy="490" rx="22" ry="34"/><ellipse cx="505" cy="725" rx="40" ry="32"/></g>
<rect x="45" y="37" width="1027" height="1028" filter="url(#grain)" opacity="0.28" style="mix-blend-mode:overlay"/>
<rect x="908" y="938" width="144" height="30" fill="#fff"/>
<text x="980" y="1034" text-anchor="middle" style="font-size:60px;fill:#fff">5 nm</text>
</g></g>
<text x="1776.7" y="418" class="cap">2Pt/TiO<tspan class="sub" dy="5.3">2</tspan></text>
<g id="tem-d" transform="translate(380,665) scale(0.26858)">
<clipPath id="clipd"><rect x="46" y="48" width="1026" height="1026"/></clipPath>
<g clip-path="url(#clipd)">
<rect x="46" y="48" width="1026" height="1026" fill="#050505"/>
<g filter="url(#b25)">
<polygon points="0,0 160,0 150,300 140,600 0,620" fill="#363636"/>
<ellipse cx="80" cy="860" rx="205" ry="260" fill="#505050"/>
<polygon points="30,450 135,470 150,560 120,600 30,590" fill="#101010"/>
<polygon points="230,880 620,900 600,1120 200,1120" fill="#2c2c2c"/>
<polygon points="600,900 900,820 960,1120 600,1120" fill="#171717"/>
</g>
<g filter="url(#b8)"><path d="M140 40C239 12 779 19 880 40C981 61 892 159 895 200C898 241 900 310 905 350C910 390 925 461 930 500C935 539 945 611 945 640C945 669 941 700 930 720C919 740 885 773 860 790C835 807 775 838 740 850C705 862 639 875 600 880C561 885 486 890 450 885C414 880 357 853 330 840C303 827 267 809 250 790C233 771 213 731 200 700C187 669 159 596 150 560C141 524 131 471 130 430C129 389 139 302 140 250C141 198 41 68 140 40Z" fill="url(#gD)"/></g>
<ellipse cx="210" cy="70" rx="80" ry="35" fill="#0c0c0c" filter="url(#b14)"/>
<path d="M140 40C239 12 779 19 880 40C981 61 892 159 895 200C898 241 900 310 905 350C910 390 925 461 930 500C935 539 945 611 945 640C945 669 941 700 930 720C919 740 885 773 860 790C835 807 775 838 740 850C705 862 639 875 600 880C561 885 486 890 450 885C414 880 357 853 330 840C303 827 267 809 250 790C233 771 213 731 200 700C187 669 159 596 150 560C141 524 131 471 130 430C129 389 139 302 140 250C141 198 41 68 140 40Z" fill="url(#fringeD)"/>
<g fill="#fff" filter="url(#b8)" opacity="0.4"><ellipse cx="115" cy="250" rx="28" ry="38"/><ellipse cx="160" cy="150" rx="25" ry="25"/><ellipse cx="220" cy="150" rx="22" ry="22"/><ellipse cx="280" cy="160" rx="35" ry="28"/><ellipse cx="285" cy="105" rx="20" ry="16"/><ellipse cx="365" cy="150" rx="15" ry="15"/><ellipse cx="450" cy="125" rx="35" ry="20" transform="rotate(-20 450 125)"/><ellipse cx="530" cy="70" rx="60" ry="22"/><ellipse cx="700" cy="125" rx="35" ry="20"/><ellipse cx="860" cy="85" rx="25" ry="28"/><ellipse cx="850" cy="250" rx="28" ry="22"/><ellipse cx="415" cy="190" rx="22" ry="18"/><ellipse cx="440" cy="250" rx="20" ry="28"/><ellipse cx="590" cy="215" rx="18" ry="16"/><ellipse cx="320" cy="270" rx="20" ry="18"/><ellipse cx="375" cy="270" rx="14" ry="12"/><ellipse cx="285" cy="315" rx="28" ry="20"/><ellipse cx="345" cy="345" rx="25" ry="22" transform="rotate(-30 345 345)"/><ellipse cx="510" cy="345" rx="28" ry="22"/><ellipse cx="450" cy="385" rx="30" ry="28"/><ellipse cx="685" cy="355" rx="25" ry="30"/><ellipse cx="760" cy="305" rx="22" ry="20"/><ellipse cx="770" cy="365" rx="28" ry="24"/><ellipse cx="900" cy="335" rx="18" ry="25"/><ellipse cx="210" cy="405" rx="18" ry="18"/><ellipse cx="405" cy="420" rx="14" ry="12"/><ellipse cx="335" cy="465" rx="30" ry="28"/><ellipse cx="700" cy="450" rx="28" ry="30"/><ellipse cx="875" cy="440" rx="20" ry="28"/><ellipse cx="565" cy="480" rx="16" ry="16"/><ellipse cx="770" cy="480" rx="20" ry="18"/><ellipse cx="120" cy="460" rx="16" ry="16"/><ellipse cx="230" cy="520" rx="35" ry="30"/><ellipse cx="685" cy="580" rx="28" ry="32"/><ellipse cx="800" cy="525" rx="16" ry="16"/><ellipse cx="620" cy="520" rx="20" ry="16"/><ellipse cx="140" cy="520" rx="18" ry="18"/><ellipse cx="150" cy="570" rx="30" ry="26"/><ellipse cx="190" cy="640" rx="25" ry="22"/><ellipse cx="305" cy="625" rx="25" ry="20"/><ellipse cx="525" cy="645" rx="18" ry="18"/><ellipse cx="750" cy="630" rx="28" ry="26"/><ellipse cx="825" cy="620" rx="14" ry="14"/><ellipse cx="905" cy="605" rx="22" ry="22"/><ellipse cx="935" cy="575" rx="18" ry="18"/><ellipse cx="285" cy="715" rx="25" ry="20"/><ellipse cx="240" cy="740" rx="18" ry="18"/><ellipse cx="295" cy="790" rx="35" ry="28"/><ellipse cx="355" cy="780" rx="18" ry="16"/><ellipse cx="435" cy="800" rx="25" ry="20"/><ellipse cx="450" cy="760" rx="18" ry="16"/><ellipse cx="510" cy="805" rx="25" ry="22"/><ellipse cx="550" cy="835" rx="25" ry="20"/><ellipse cx="675" cy="780" rx="22" ry="20"/><ellipse cx="795" cy="760" rx="30" ry="22" transform="rotate(-25 795 760)"/><ellipse cx="855" cy="805" rx="18" ry="16"/><ellipse cx="940" cy="720" rx="20" ry="20"/><ellipse cx="440" cy="875" rx="20" ry="14"/><ellipse cx="375" cy="855" rx="20" ry="14"/><ellipse cx="565" cy="890" rx="14" ry="12"/><ellipse cx="265" cy="815" rx="18" ry="18"/></g>
<g fill="#fff" filter="url(#b8)" opacity="0.62"><ellipse cx="860" cy="170" rx="25" ry="30"/><ellipse cx="155" cy="405" rx="25" ry="35"/><ellipse cx="395" cy="570" rx="42" ry="38"/><ellipse cx="480" cy="625" rx="35" ry="35"/><ellipse cx="495" cy="845" rx="35" ry="25"/><ellipse cx="710" cy="845" rx="40" ry="35"/></g>
<rect x="46" y="48" width="1026" height="1026" filter="url(#grain)" opacity="0.28" style="mix-blend-mode:overlay"/>
<rect x="932" y="950" width="101" height="30" fill="#fff"/>
<text x="983" y="1042" text-anchor="middle" style="font-size:60px;fill:#fff">5 nm</text>
</g></g>
<text x="484.5" y="988.8" class="cap">4Pt/TiO<tspan class="sub" dy="5.3">2</tspan></text>
<g id="tem-e" transform="translate(1020,665) scale(0.26858)">
<clipPath id="clipe"><rect x="49" y="45" width="1027" height="1026"/></clipPath>
<g clip-path="url(#clipe)">
<rect x="49" y="45" width="1027" height="1026" fill="#080808"/>
<g filter="url(#b25)">
<polygon points="0,0 640,0 610,150 560,250 450,320 300,300 150,330 0,350" fill="#383838"/>
<polygon points="0,330 200,330 330,400 420,520 400,700 250,760 0,780" fill="#434343"/>
<polygon points="440,340 560,285 700,255 850,245 940,290 995,390 985,500 935,620 860,730 760,770 600,700 480,610 420,460" fill="#333"/>
<polygon points="0,760 250,740 450,680 620,640 760,700 850,780 930,880 960,1000 900,1120 0,1120" fill="#3c3c3c"/>
<polygon points="380,520 560,560 600,720 420,760" fill="#363636"/>
<polygon points="280,290 430,290 470,380 400,420 320,380" fill="#161616"/>
</g>
<ellipse cx="90" cy="680" rx="90" ry="200" fill="#fff" opacity="0.18" filter="url(#b45)"/>
<polygon points="560,720 700,650 860,770 800,830 640,760" fill="#fff" opacity="0.06" filter="url(#b25)"/>
<ellipse cx="135" cy="750" rx="26" ry="34" fill="#fff" opacity="0.95" filter="url(#b8)" transform="rotate(35 135 750)"/>
<g fill="#fff" filter="url(#b8)" opacity="0.27"><ellipse cx="500" cy="120" rx="28" ry="28"/><ellipse cx="600" cy="115" rx="18" ry="22"/><ellipse cx="565" cy="210" rx="20" ry="24"/><ellipse cx="375" cy="215" rx="25" ry="20"/><ellipse cx="370" cy="260" rx="28" ry="22"/><ellipse cx="100" cy="220" rx="18" ry="18"/><ellipse cx="150" cy="230" rx="16" ry="16"/><ellipse cx="210" cy="230" rx="20" ry="22"/><ellipse cx="270" cy="225" rx="14" ry="16"/><ellipse cx="250" cy="310" rx="25" ry="20"/><ellipse cx="585" cy="300" rx="28" ry="20" transform="rotate(-20 585 300)"/><ellipse cx="430" cy="300" rx="16" ry="14"/><ellipse cx="180" cy="360" rx="22" ry="20"/><ellipse cx="390" cy="400" rx="18" ry="16"/><ellipse cx="830" cy="280" rx="22" ry="18"/><ellipse cx="790" cy="455" rx="22" ry="16"/><ellipse cx="985" cy="420" rx="25" ry="28"/><ellipse cx="950" cy="495" rx="22" ry="22"/><ellipse cx="405" cy="465" rx="18" ry="20"/><ellipse cx="230" cy="485" rx="22" ry="22"/><ellipse cx="65" cy="440" rx="14" ry="22"/><ellipse cx="415" cy="545" rx="28" ry="28"/><ellipse cx="870" cy="585" rx="25" ry="22"/><ellipse cx="300" cy="575" rx="16" ry="16"/><ellipse cx="305" cy="640" rx="25" ry="25"/><ellipse cx="140" cy="575" rx="16" ry="16"/><ellipse cx="95" cy="610" rx="18" ry="18"/><ellipse cx="635" cy="645" rx="35" ry="25"/><ellipse cx="700" cy="675" rx="25" ry="25"/><ellipse cx="900" cy="685" rx="22" ry="18"/><ellipse cx="440" cy="740" rx="25" ry="22"/><ellipse cx="565" cy="735" rx="20" ry="18"/><ellipse cx="390" cy="780" rx="25" ry="25"/><ellipse cx="800" cy="775" rx="25" ry="22"/><ellipse cx="460" cy="815" rx="22" ry="22"/><ellipse cx="430" cy="845" rx="16" ry="16"/><ellipse cx="480" cy="860" rx="25" ry="22"/><ellipse cx="665" cy="860" rx="25" ry="22"/><ellipse cx="715" cy="850" rx="16" ry="16"/><ellipse cx="785" cy="870" rx="22" ry="22"/><ellipse cx="905" cy="835" rx="22" ry="20"/><ellipse cx="540" cy="935" rx="28" ry="22"/><ellipse cx="355" cy="920" rx="20" ry="20"/><ellipse cx="185" cy="920" rx="18" ry="25"/><ellipse cx="90" cy="935" rx="22" ry="22"/><ellipse cx="120" cy="895" rx="14" ry="14"/><ellipse cx="275" cy="940" rx="14" ry="14"/><ellipse cx="330" cy="960" rx="16" ry="18"/><ellipse cx="295" cy="985" rx="20" ry="18"/><ellipse cx="370" cy="985" rx="22" ry="30"/><ellipse cx="125" cy="995" rx="16" ry="16"/><ellipse cx="150" cy="1030" rx="18" ry="18"/><ellipse cx="445" cy="1040" rx="18" ry="16"/><ellipse cx="905" cy="960" rx="18" ry="14"/><ellipse cx="70" cy="790" rx="18" ry="18"/><ellipse cx="130" cy="50" rx="25" ry="14"/></g>
<rect x="49" y="45" width="1027" height="1026" filter="url(#grain)" opacity="0.28" style="mix-blend-mode:overlay"/>
<rect x="935" y="946" width="102" height="30" fill="#fff"/>
<text x="986" y="1039" text-anchor="middle" style="font-size:60px;fill:#fff">5 nm</text>
</g></g>
<text x="1132.2" y="988.2" class="cap">6Pt/TiO<tspan class="sub" dy="5.3">2</tspan></text>
<g id="panel-f">
<rect x="1450.60" y="980.58" width="21.00" height="54.62" fill="#f0c497" stroke="#111" stroke-width="1.3"/>
<rect x="1471.60" y="943.79" width="21.00" height="91.41" fill="#a6e6a1" stroke="#111" stroke-width="1.3"/>
<rect x="1492.60" y="1021.27" width="21.00" height="13.93" fill="#c2b0dc" stroke="#111" stroke-width="1.3"/>
<rect x="1513.60" y="1029.63" width="21.00" height="5.57" fill="#f3fca1" stroke="#111" stroke-width="1.3"/>
<rect x="1534.60" y="1032.41" width="21.00" height="2.79" fill="#a1bff6" stroke="#111" stroke-width="1.3"/>
<rect x="1582.00" y="629.99" width="21.00" height="405.21" fill="#f0c497" stroke="#111" stroke-width="1.3"/>
<rect x="1603.00" y="696.87" width="21.00" height="338.33" fill="#a6e6a1" stroke="#111" stroke-width="1.3"/>
<rect x="1624.00" y="912.02" width="21.00" height="123.18" fill="#c2b0dc" stroke="#111" stroke-width="1.3"/>
<rect x="1645.00" y="919.82" width="21.00" height="115.38" fill="#f3fca1" stroke="#111" stroke-width="1.3"/>
<rect x="1666.00" y="978.35" width="21.00" height="56.85" fill="#a1bff6" stroke="#111" stroke-width="1.3"/>
<rect x="1713.40" y="942.68" width="21.00" height="92.52" fill="#f0c497" stroke="#111" stroke-width="1.3"/>
<rect x="1734.40" y="919.27" width="21.00" height="115.93" fill="#a6e6a1" stroke="#111" stroke-width="1.3"/>
<rect x="1755.40" y="862.97" width="21.00" height="172.23" fill="#c2b0dc" stroke="#111" stroke-width="1.3"/>
<rect x="1776.40" y="835.10" width="21.00" height="200.10" fill="#f3fca1" stroke="#111" stroke-width="1.3"/>
<rect x="1797.40" y="859.07" width="21.00" height="176.13" fill="#a1bff6" stroke="#111" stroke-width="1.3"/>
<rect x="1844.40" y="1030.74" width="21.00" height="4.46" fill="#f0c497" stroke="#111" stroke-width="1.3"/>
<rect x="1865.40" y="1024.05" width="21.00" height="11.15" fill="#a6e6a1" stroke="#111" stroke-width="1.3"/>
<rect x="1886.40" y="787.73" width="21.00" height="247.47" fill="#c2b0dc" stroke="#111" stroke-width="1.3"/>
<rect x="1907.40" y="799.43" width="21.00" height="235.77" fill="#f3fca1" stroke="#111" stroke-width="1.3"/>
<rect x="1928.40" y="714.15" width="21.00" height="321.05" fill="#a1bff6" stroke="#111" stroke-width="1.3"/>
<rect x="1405.3" y="589.3" width="589.9000000000001" height="445.9000000000001" fill="none" stroke="#000" stroke-width="1.6"/>
<path d="M1405.3 1035.20h-8M1405.3 979.46h-4M1405.3 923.73h-8M1405.3 867.99h-4M1405.3 812.25h-8M1405.3 756.51h-4M1405.3 700.77h-8M1405.3 645.04h-4M1405.3 589.30h-8M1503.1 1035.2v8.6M1634.5 1035.2v8.6M1765.9 1035.2v8.6M1896.9 1035.2v8.6" stroke="#000" stroke-width="1.6" fill="none"/>
<text x="1390.30" y="1040.80" text-anchor="end" class="ftk">0</text>
<text x="1390.30" y="929.33" text-anchor="end" class="ftk">20</text>
<text x="1390.30" y="817.85" text-anchor="end" class="ftk">40</text>
<text x="1390.30" y="706.38" text-anchor="end" class="ftk">60</text>
<text x="1390.30" y="594.90" text-anchor="end" class="ftk">80</text>
<text x="1474.20" y="1074.3" text-anchor="middle" class="fx">Clusters</text>
<text x="1622.00" y="1074.3" text-anchor="middle" class="fx">One-shell</text>
<text x="1768.40" y="1074.3" text-anchor="middle" class="fx">Two-shell</text>
<text x="1919.80" y="1074.3" text-anchor="middle" class="fx">&gt; 2 nm</text>
<text transform="translate(1360.4,812) rotate(-90)" text-anchor="middle" class="fx">Frequency / %</text>
<text x="1435" y="624" class="lt">f</text>
<rect x="1412.5" y="648.40" width="49.5" height="24" fill="#f0c497" stroke="#111" stroke-width="1.3"/>
<text x="1468.3" y="667.90" class="lg">0.5Pt/TiO<tspan class="lgs" dy="6">2</tspan></text>
<rect x="1412.5" y="681.70" width="49.5" height="24" fill="#a6e6a1" stroke="#111" stroke-width="1.3"/>
<text x="1468.3" y="701.20" class="lg">1Pt/TiO<tspan class="lgs" dy="6">2</tspan></text>
<rect x="1412.5" y="715.00" width="49.5" height="24" fill="#c2b0dc" stroke="#111" stroke-width="1.3"/>
<text x="1468.3" y="734.50" class="lg">2Pt/TiO<tspan class="lgs" dy="6">2</tspan></text>
<rect x="1412.5" y="748.30" width="49.5" height="24" fill="#f3fca1" stroke="#111" stroke-width="1.3"/>
<text x="1468.3" y="767.80" class="lg">4Pt/TiO<tspan class="lgs" dy="6">2</tspan></text>
<rect x="1412.5" y="781.60" width="49.5" height="24" fill="#a1bff6" stroke="#111" stroke-width="1.3"/>
<text x="1468.3" y="801.10" class="lg">6Pt/TiO<tspan class="lgs" dy="6">2</tspan></text>
<rect x="1662.3" y="603.2" width="220.60" height="158.10" fill="#fff" stroke="#7f7f7f" stroke-width="1.2"/>
<path d="M1662.3 761.30h-3.4M1662.3 745.49h-1.8M1662.3 729.68h-3.4M1662.3 713.87h-1.8M1662.3 698.06h-3.4M1662.3 682.25h-1.8M1662.3 666.44h-3.4M1662.3 650.63h-1.8M1662.3 634.82h-3.4M1662.3 619.01h-1.8M1662.3 603.20h-3.4M1662.30 761.3v3.4M1686.80 761.3v1.8M1711.30 761.3v3.4M1735.80 761.3v1.8M1760.30 761.3v3.4M1784.80 761.3v1.8M1809.30 761.3v3.4M1833.80 761.3v1.8M1858.30 761.3v3.4M1882.80 761.3v1.8" stroke="#7f7f7f" stroke-width="1" fill="none"/>
<text x="1657.50" y="764.70" text-anchor="end" class="itk">0</text>
<text x="1657.50" y="733.08" text-anchor="end" class="itk">50</text>
<text x="1657.50" y="701.46" text-anchor="end" class="itk">100</text>
<text x="1657.50" y="669.84" text-anchor="end" class="itk">150</text>
<text x="1657.50" y="638.22" text-anchor="end" class="itk">200</text>
<text x="1657.50" y="606.60" text-anchor="end" class="itk">250</text>
<text x="1662.30" y="774.3" text-anchor="middle" class="itk">15</text>
<text x="1711.30" y="774.3" text-anchor="middle" class="itk">20</text>
<text x="1760.30" y="774.3" text-anchor="middle" class="itk">25</text>
<text x="1809.30" y="774.3" text-anchor="middle" class="itk">30</text>
<text x="1858.30" y="774.3" text-anchor="middle" class="itk">35</text>
<path d="M1678.3 748.5L1866.1 621.5" stroke="#e2404f" stroke-width="1.1" stroke-dasharray="5.2 3.4" fill="none"/>
<rect x="1675.30" y="740.20" width="6" height="6" fill="#000"/>
<rect x="1717.00" y="722.30" width="6" height="6" fill="#000"/>
<rect x="1815.90" y="658.50" width="6" height="6" fill="#000"/>
<rect x="1822.20" y="644.10" width="6" height="6" fill="#000"/>
<rect x="1864.70" y="612.40" width="6" height="6" fill="#000"/>
<text x="1745.2" y="633.9" class="r2">R<tspan dy="-6" style="font-size:10px">2</tspan><tspan dy="6">=0.988</tspan></text>
<text x="1772.9" y="790.8" text-anchor="middle" class="ix">Frequency of two-shell structure / %</text>
<text transform="translate(1638.5,682.5) rotate(-90)" text-anchor="middle" class="ix">TOF / h<tspan dy="-4" style="font-size:7.5px">-1</tspan></text>
</g>
</svg></body></html>
